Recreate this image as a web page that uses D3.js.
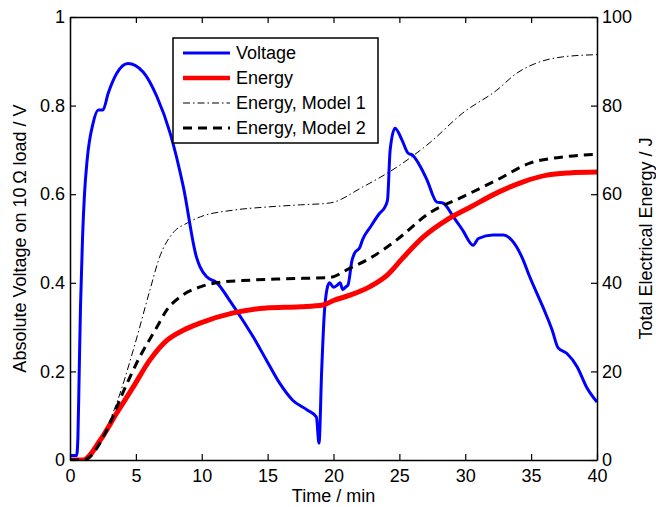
<!DOCTYPE html>
<html>
<head>
<meta charset="utf-8">
<script src="https://cdn.jsdelivr.net/npm/d3@7"></script>
<style>
  body { margin: 0; background: #fff; }
  svg text { font-family: "Liberation Sans", Arial, Helvetica, sans-serif; fill: #000; }
</style>
</head>
<body>
<svg id="chart" width="656" height="507"></svg>
<script>
// voltage trace (left axis, V)
var voltageT = [0, 0.5, 0.6, 0.7, 0.8, 0.95, 1.1, 1.3, 1.75, 2.15, 2.5, 2.9, 3.55, 4.4, 5.55, 6.6, 7.6, 8.6, 9.6,
  9.87, 10.4, 11.15, 12.1, 13.1, 13.9, 14.9, 15.9, 16.9, 18.0, 18.7, 18.9, 19.1, 19.3, 19.5, 19.7, 20.0, 20.3,
  20.5, 20.7, 20.9, 21.1, 21.4, 21.6, 22.0, 22.2, 22.8, 23.5, 23.9, 24.1, 24.3, 24.67, 25.2, 25.65, 26.0, 26.6,
  27.1, 27.85, 28.3, 29.1, 29.8, 30.6, 31.0, 32.1, 32.9, 33.5, 34.3, 34.9, 35.9, 36.6, 37.05, 37.7, 38.5, 39.2, 40];
var voltageV = [0.01, 0.01, 0.05, 0.2, 0.35, 0.5, 0.6, 0.677, 0.76, 0.79, 0.79, 0.828, 0.873, 0.895, 0.876, 0.82, 0.738, 0.617, 0.458,
  0.436, 0.413, 0.40, 0.361, 0.316, 0.278, 0.226, 0.174, 0.135, 0.113, 0.097, 0.038, 0.2, 0.33, 0.385, 0.40, 0.39, 0.395,
  0.40, 0.385, 0.39, 0.395, 0.45, 0.467, 0.48, 0.497, 0.526, 0.557, 0.571, 0.587, 0.70, 0.749, 0.722, 0.693, 0.688, 0.662,
  0.632, 0.582, 0.58, 0.549, 0.519, 0.485, 0.50, 0.508, 0.508, 0.497, 0.458, 0.413, 0.345, 0.293, 0.253, 0.241, 0.21, 0.165, 0.131];

// measured energy (right axis, J)
var energyT = [0, 1.0, 2.3, 3.55, 4.8, 6.07, 7.35, 8.6, 9.87, 12.4, 14.9, 17.5, 19.2, 20.0, 21.25, 22.8, 24.1, 25.2,
  26.8, 28.6, 30.4, 32.4, 34.4, 36.2, 37.9, 40];
var energyE = [0, 0, 4.5, 10.6, 16.5, 22.6, 27, 29.3, 30.9, 33.2, 34.3, 34.6, 35, 36, 37.2, 39.2, 41.8, 45.4,
  50.3, 54.2, 57.1, 60.3, 62.8, 64.3, 64.8, 65.0];

// model 1 (dash-dot)
var model1T = [0, 1.1, 2.3, 3.55, 4.8, 6.07, 6.8, 7.8, 8.9, 9.9, 12.4, 14.9, 17.5, 19.7, 22.2, 24.8, 27.3, 29.8,
  32.4, 33.9, 35.4, 37.4, 40];
var model1E = [0, 0, 4.5, 12.9, 24.8, 38.4, 45.8, 51.2, 53.5, 54.9, 56.4, 57.1, 57.6, 58, 61.6, 66.1, 71.6, 78.3,
  83.5, 87.3, 89.6, 91, 91.5];

// model 2 (dashed)
var model2T = [0, 1.1, 1.5, 2.8, 4.0, 5.3, 6.6, 7.35, 8.35, 9.9, 11.1, 13.7, 16.2, 19.7, 21.25, 22.8, 24.8, 27.3,
  29.8, 32.4, 34.9, 37.4, 40];
var model2E = [0, 0, 0.7, 6.8, 15.1, 23.3, 30, 33.9, 36.8, 39.1, 40, 40.6, 40.9, 41.2, 43.3, 45.6, 49.7, 55.8,
  59.4, 63.2, 67, 68.4, 69];

var xTicks = [0, 5, 10, 15, 20, 25, 30, 35, 40];
var leftTicks = [0, 0.2, 0.4, 0.6, 0.8, 1];
var rightTicks = [0, 20, 40, 60, 80, 100];

var legendNames = ['Voltage', 'Energy', 'Energy, Model 1', 'Energy, Model 2'];

var svg = d3.select('#chart');
var mLeft = 70, mRight = 597, mTop = 17, mBottom = 460;

var x = d3.scaleLinear().domain([0, 40]).range([mLeft, mRight]);
var yV = d3.scaleLinear().domain([0, 1]).range([mBottom, mTop]);
var yE = d3.scaleLinear().domain([0, 100]).range([mBottom, mTop]);

function zip(a, b) {
  return a.map(function(v, i) { return [v, b[i]]; });
}

var lineV = d3.line().x(function(d) { return x(d[0]); }).y(function(d) { return yV(d[1]); })
    .curve(d3.curveMonotoneX);
var lineE = d3.line().x(function(d) { return x(d[0]); }).y(function(d) { return yE(d[1]); })
    .curve(d3.curveMonotoneX);

var plot = svg.append('g');
plot.append('defs').append('clipPath').attr('id', 'clip')
    .append('rect').attr('x', mLeft).attr('y', mTop).attr('width', mRight - mLeft).attr('height', mBottom - mTop);

var series = [
  {pts: zip(model1T, model1E), gen: lineE, color: '#000', width: 1, dash: '7,3,1.5,3'},
  {pts: zip(voltageT, voltageV), gen: lineV, color: '#0000ff', width: 3, dash: null},
  {pts: zip(energyT, energyE), gen: lineE, color: '#ff0000', width: 5, dash: null},
  {pts: zip(model2T, model2E), gen: lineE, color: '#000', width: 3, dash: '9,6'}
];

series.forEach(function(s) {
  plot.append('path')
      .attr('clip-path', 'url(#clip)')
      .attr('d', s.gen(s.pts))
      .attr('fill', 'none')
      .attr('stroke', s.color)
      .attr('stroke-width', s.width)
      .attr('stroke-dasharray', s.dash);
});

// axes (ticks inward, boxed)
var fs = '18px';
var axB = svg.append('g').attr('transform', 'translate(0,' + mBottom + ')')
    .call(d3.axisBottom(x).tickValues(xTicks).tickSizeInner(-6).tickSizeOuter(0).tickPadding(9));
var axT = svg.append('g').attr('transform', 'translate(0,' + mTop + ')')
    .call(d3.axisTop(x).tickValues(xTicks).tickSizeInner(-6).tickSizeOuter(0).tickFormat(''));
var axL = svg.append('g').attr('transform', 'translate(' + mLeft + ',0)')
    .call(d3.axisLeft(yV).tickValues(leftTicks).tickSizeInner(-6).tickSizeOuter(0).tickPadding(5)
      .tickFormat(function(d) { return d === 0 || d === 1 ? d3.format('d')(d) : d3.format('.1f')(d); }));
var axR = svg.append('g').attr('transform', 'translate(' + mRight + ',0)')
    .call(d3.axisRight(yE).tickValues(rightTicks).tickSizeInner(-6).tickSizeOuter(0).tickPadding(5));

[axB, axT, axL, axR].forEach(function(a) {
  a.select('.domain').attr('stroke', '#000').attr('stroke-width', 1.5);
  a.selectAll('.tick line').attr('stroke', '#000').attr('stroke-width', 1.2);
  a.selectAll('.tick text').attr('font-size', fs).attr('font-family', null);
});

// legend
var lg = svg.append('g');
lg.append('rect').attr('x', 173).attr('y', 38).attr('width', 205).attr('height', 105)
    .attr('fill', '#fff').attr('stroke', '#000').attr('stroke-width', 1.5);
var legendStyles = [series[1], series[2], series[0], series[3]];
legendNames.forEach(function(name, i) {
  var yy = 53 + i * 25;
  var s = legendStyles[i];
  lg.append('line').attr('x1', 183).attr('x2', 230).attr('y1', yy).attr('y2', yy)
      .attr('stroke', s.color).attr('stroke-width', s.width === 5 ? 4.5 : s.width)
      .attr('stroke-dasharray', s.dash);
  lg.append('text').attr('x', 236).attr('y', yy).attr('dy', '0.35em')
      .attr('font-size', fs).text(name);
});

// axis titles
svg.append('text').attr('x', (mLeft + mRight) / 2).attr('y', 502)
    .attr('text-anchor', 'middle').attr('font-size', fs).text('Time / min');
svg.append('text').attr('transform', 'translate(26,' + (mTop + mBottom) / 2 + ') rotate(-90)')
    .attr('text-anchor', 'middle').attr('font-size', fs).text('Absolute Voltage on 10\u2009\u03A9 load / V');
svg.append('text').attr('transform', 'translate(652,' + (mTop + mBottom) / 2 + ') rotate(-90)')
    .attr('text-anchor', 'middle').attr('font-size', fs).text('Total Electrical Energy / J');
</script>
</body>
</html>
